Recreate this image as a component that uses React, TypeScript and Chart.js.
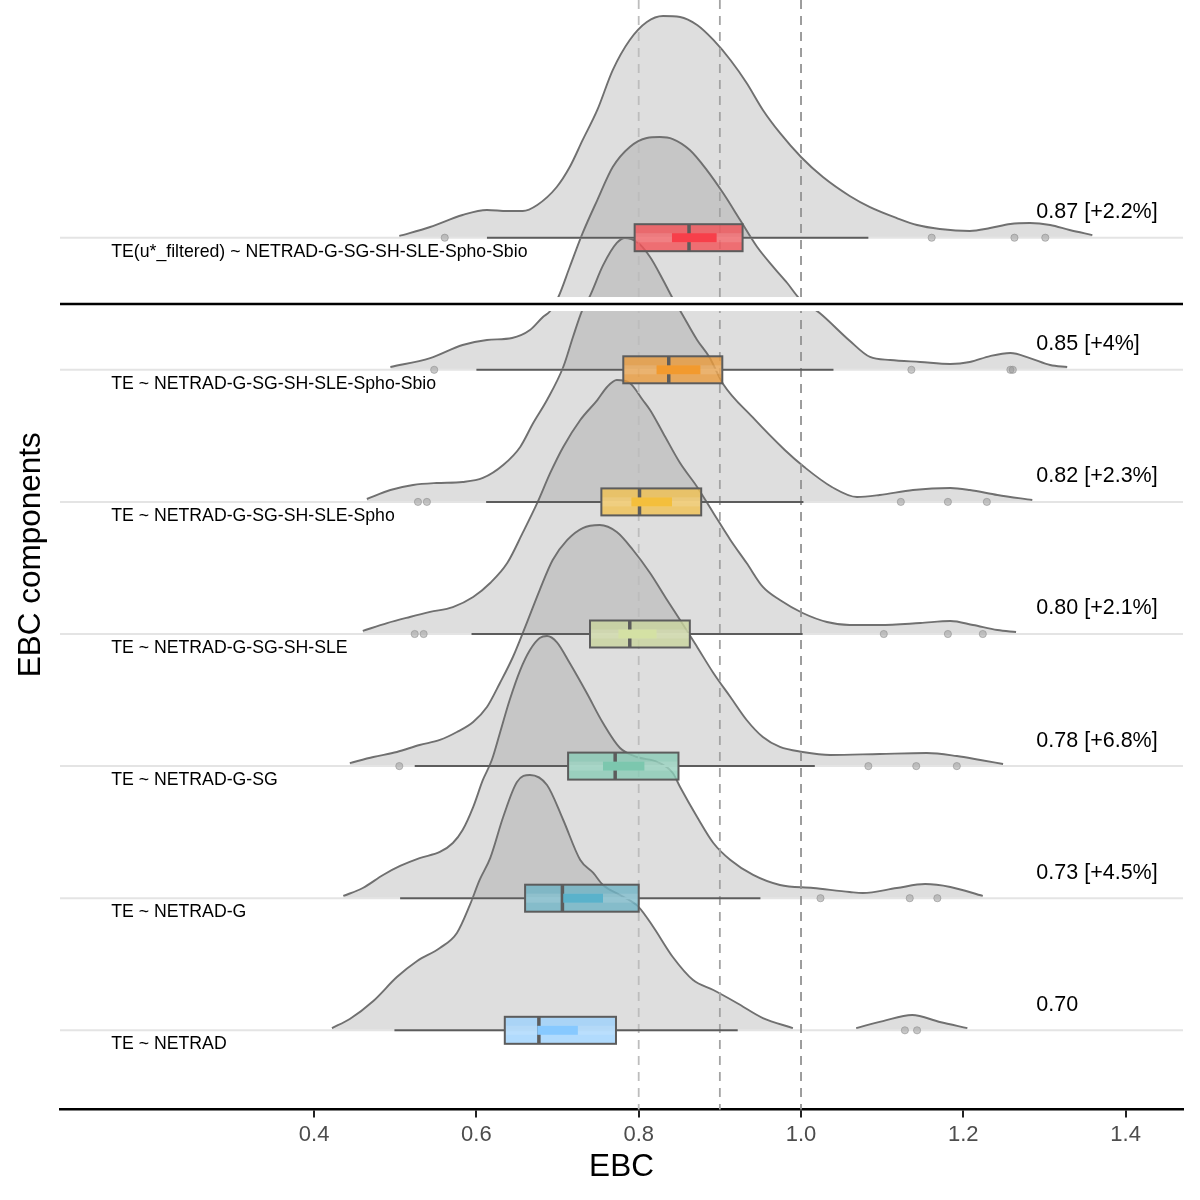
import { useEffect, useRef } from "react"
import { Chart, registerables } from "chart.js"

Chart.register(...registerables)

// rows from the bottom (0) to the top (6)
const rowLabels = [
  "TE ~ NETRAD",
  "TE ~ NETRAD-G",
  "TE ~ NETRAD-G-SG",
  "TE ~ NETRAD-G-SG-SH-SLE",
  "TE ~ NETRAD-G-SG-SH-SLE-Spho",
  "TE ~ NETRAD-G-SG-SH-SLE-Spho-Sbio",
  "TE(u*_filtered) ~ NETRAD-G-SG-SH-SLE-Spho-Sbio",
]
const meanLabels = ["0.70", "0.73 [+4.5%]", "0.78 [+6.8%]", "0.80 [+2.1%]", "0.82 [+2.3%]", "0.85 [+4%]", "0.87 [+2.2%]"]
const xTicks = [0.4, 0.6, 0.8, 1.0, 1.2, 1.4]
const refLines = [0.8, 0.9, 1.0]

// box plot stats
const whiskerLow = [0.499, 0.506, 0.524, 0.594, 0.612, 0.6, 0.613]
const q1 = [0.635, 0.66, 0.713, 0.74, 0.754, 0.781, 0.795]
const median = [0.677, 0.706, 0.771, 0.789, 0.801, 0.837, 0.862]
const q3 = [0.772, 0.8, 0.849, 0.863, 0.877, 0.903, 0.928]
const whiskerHigh = [0.922, 0.95, 1.017, 1.002, 1.003, 1.04, 1.083]
const meanLow = [0.675, 0.707, 0.756, 0.775, 0.791, 0.822, 0.841]
const meanHigh = [0.725, 0.756, 0.807, 0.822, 0.841, 0.876, 0.896]

const outliers0 = [1.128, 1.143]
const outliers1 = [1.024, 1.134, 1.168]
const outliers2 = [0.505, 1.083, 1.142, 1.192]
const outliers3 = [0.524, 0.535, 1.102, 1.181, 1.224]
const outliers4 = [0.528, 0.539, 1.123, 1.181, 1.229]
const outliers5 = [0.548, 1.136, 1.258, 1.261]
const outliers6 = [0.561, 1.161, 1.263, 1.301]

// density ridges: EBC value and height (in row spacings)
const ridgeX0 = [0.422, 0.444, 0.473, 0.502, 0.527, 0.555, 0.576, 0.592, 0.604, 0.617, 0.633, 0.65, 0.666, 0.687, 0.707, 0.728, 0.744, 0.756, 0.777, 0.8, 0.818, 0.842, 0.867, 0.892, 0.921, 0.953, 0.99]
const ridgeH0 = [0.017, 0.086, 0.222, 0.403, 0.525, 0.623, 0.737, 0.949, 1.138, 1.304, 1.615, 1.88, 1.933, 1.857, 1.592, 1.289, 1.191, 1.1, 1.024, 0.933, 0.782, 0.555, 0.381, 0.305, 0.207, 0.093, 0.017]
const bumpX0 = [1.068, 1.101, 1.137, 1.171, 1.205]
const bumpH0 = [0.017, 0.07, 0.116, 0.063, 0.017]

const ridgeX1 = [0.436, 0.46, 0.485, 0.506, 0.53, 0.555, 0.571, 0.583, 0.596, 0.608, 0.619, 0.629, 0.641, 0.654, 0.666, 0.678, 0.687, 0.699, 0.715, 0.736, 0.756, 0.777, 0.798, 0.823, 0.842, 0.851, 0.872, 0.892, 0.913, 0.941, 0.974, 1.015, 1.06, 1.076, 1.118, 1.153, 1.184, 1.224]
const ridgeH1 = [0.017, 0.077, 0.176, 0.244, 0.304, 0.35, 0.418, 0.516, 0.69, 0.895, 1.046, 1.251, 1.5, 1.727, 1.879, 1.97, 1.985, 1.939, 1.78, 1.553, 1.326, 1.137, 1.069, 1.031, 0.948, 0.842, 0.615, 0.418, 0.289, 0.176, 0.1, 0.077, 0.047, 0.039, 0.077, 0.107, 0.085, 0.017]

const ridgeX2 = [0.444, 0.473, 0.502, 0.53, 0.555, 0.576, 0.596, 0.613, 0.629, 0.645, 0.662, 0.678, 0.694, 0.712, 0.731, 0.752, 0.773, 0.793, 0.814, 0.835, 0.851, 0.872, 0.892, 0.913, 0.933, 0.953, 0.974, 1.002, 1.036, 1.097, 1.155, 1.192, 1.221, 1.249]
const ridgeH2 = [0.023, 0.069, 0.107, 0.16, 0.198, 0.258, 0.334, 0.447, 0.629, 0.826, 1.083, 1.333, 1.56, 1.712, 1.802, 1.825, 1.772, 1.636, 1.462, 1.257, 1.106, 0.902, 0.705, 0.523, 0.349, 0.22, 0.145, 0.107, 0.084, 0.092, 0.099, 0.076, 0.046, 0.016]

const ridgeX3 = [0.46, 0.49, 0.518, 0.543, 0.571, 0.596, 0.617, 0.638, 0.657, 0.675, 0.691, 0.707, 0.728, 0.749, 0.761, 0.773, 0.789, 0.805, 0.814, 0.83, 0.851, 0.872, 0.892, 0.913, 0.933, 0.953, 0.974, 1.002, 1.032, 1.06, 1.097, 1.147, 1.184, 1.212, 1.242, 1.265]
const ridgeH3 = [0.023, 0.083, 0.129, 0.167, 0.204, 0.28, 0.386, 0.537, 0.765, 0.992, 1.219, 1.416, 1.62, 1.771, 1.87, 1.923, 1.9, 1.771, 1.696, 1.522, 1.294, 1.113, 0.916, 0.712, 0.537, 0.356, 0.257, 0.159, 0.091, 0.068, 0.068, 0.083, 0.098, 0.068, 0.03, 0.015]

const ridgeX4 = [0.465, 0.494, 0.522, 0.551, 0.583, 0.608, 0.633, 0.654, 0.67, 0.687, 0.707, 0.719, 0.73, 0.74, 0.756, 0.773, 0.783, 0.798, 0.814, 0.83, 0.841, 0.852, 0.872, 0.887, 0.904, 0.94, 0.98, 1.004, 1.038, 1.069, 1.097, 1.138, 1.184, 1.208, 1.242, 1.285]
const ridgeH4 = [0.022, 0.09, 0.128, 0.143, 0.151, 0.181, 0.279, 0.416, 0.597, 0.771, 1.021, 1.248, 1.445, 1.56, 1.79, 1.96, 1.998, 1.967, 1.854, 1.68, 1.551, 1.438, 1.226, 1.097, 0.893, 0.643, 0.393, 0.264, 0.113, 0.037, 0.052, 0.09, 0.105, 0.09, 0.052, 0.014]

const ridgeX5 = [0.494, 0.543, 0.583, 0.613, 0.644, 0.666, 0.682, 0.691, 0.701, 0.715, 0.731, 0.749, 0.768, 0.789, 0.81, 0.826, 0.842, 0.863, 0.884, 0.904, 0.925, 0.946, 0.966, 0.983, 0.998, 1.023, 1.06, 1.085, 1.11, 1.147, 1.184, 1.208, 1.233, 1.258, 1.282, 1.307, 1.328]
const ridgeH5 = [0.021, 0.089, 0.188, 0.226, 0.241, 0.301, 0.4, 0.445, 0.551, 0.778, 1.036, 1.285, 1.535, 1.687, 1.755, 1.762, 1.747, 1.664, 1.512, 1.338, 1.134, 0.93, 0.778, 0.657, 0.54, 0.43, 0.22, 0.097, 0.074, 0.059, 0.044, 0.059, 0.104, 0.127, 0.089, 0.036, 0.021]

const ridgeX6 = [0.505, 0.543, 0.583, 0.613, 0.638, 0.657, 0.675, 0.699, 0.715, 0.731, 0.749, 0.768, 0.789, 0.81, 0.83, 0.851, 0.872, 0.892, 0.913, 0.933, 0.953, 0.974, 1.0, 1.027, 1.06, 1.085, 1.118, 1.143, 1.171, 1.208, 1.233, 1.258, 1.282, 1.307, 1.331, 1.359]
const ridgeH6 = [0.013, 0.081, 0.172, 0.21, 0.202, 0.202, 0.248, 0.384, 0.535, 0.74, 0.967, 1.269, 1.497, 1.633, 1.678, 1.671, 1.61, 1.497, 1.345, 1.171, 0.967, 0.793, 0.611, 0.459, 0.316, 0.232, 0.149, 0.096, 0.066, 0.051, 0.073, 0.104, 0.111, 0.096, 0.058, 0.02]

const ridgeX = [ridgeX0, ridgeX1, ridgeX2, ridgeX3, ridgeX4, ridgeX5, ridgeX6]
const ridgeH = [ridgeH0, ridgeH1, ridgeH2, ridgeH3, ridgeH4, ridgeH5, ridgeH6]
const outliers = [outliers0, outliers1, outliers2, outliers3, outliers4, outliers5, outliers6]

// styling
const FONT = "'Liberation Sans', Arial, sans-serif"
const boxFill = [
  "rgba(157, 210, 252, 0.8)",
  "rgba(111, 180, 198, 0.8)",
  "rgba(138, 204, 182, 0.8)",
  "rgba(201, 212, 157, 0.8)",
  "rgba(241, 194, 82, 0.8)",
  "rgba(234, 155, 60, 0.8)",
  "rgba(242, 82, 87, 0.8)",
]
const meanFill = ["#87c9ff", "#5ab2cb", "#7cc7ae", "#d4e1a4", "#f4bf3c", "#f29a2e", "#f73f4a"]
const refColors = ["#bdbdbd", "#a3a3a3", "#939393"]

function ridgeDataset(xs: number[], hs: number[], row: number) {
  return {
    label: "ridge" + row,
    data: xs.map((x, i) => ({ x, y: row + hs[i] })),
    borderColor: "#707070",
    borderWidth: 1.9,
    backgroundColor: "rgba(133, 133, 133, 0.27)",
    fill: { value: row },
    pointRadius: 0,
    cubicInterpolationMode: "monotone",
  }
}

const ridgeDecor = {
  id: "ridgeDecor",
  beforeDatasetDraw(chart: any, args: any) {
    if (chart.data.datasets[args.index].label !== "outliers") return
    const { ctx, chartArea } = chart
    const xs = chart.scales.x
    const ys = chart.scales.y
    const line = (x1: number, y1: number, x2: number, y2: number) => {
      ctx.beginPath()
      ctx.moveTo(x1, y1)
      ctx.lineTo(x2, y2)
      ctx.stroke()
    }
    ctx.save()

    // baselines
    ctx.strokeStyle = "#e4e4e4"
    ctx.lineWidth = 2
    rowLabels.forEach((_, r) => {
      const y = ys.getPixelForValue(r)
      line(chartArea.left, y, chartArea.right, y)
    })

    // reference lines
    ctx.lineWidth = 1.8
    ctx.setLineDash([9, 7])
    refLines.forEach((v, i) => {
      ctx.strokeStyle = refColors[i]
      const x = xs.getPixelForValue(v)
      line(x, chartArea.top, x, chartArea.bottom)
    })
    ctx.setLineDash([])

    // box plots
    const half = 13.5
    rowLabels.forEach((_, r) => {
      const y = ys.getPixelForValue(r)
      const x1 = xs.getPixelForValue(q1[r])
      const x3 = xs.getPixelForValue(q3[r])
      ctx.strokeStyle = "#5c5c5c"
      ctx.lineWidth = 2
      line(xs.getPixelForValue(whiskerLow[r]), y, x1, y)
      line(x3, y, xs.getPixelForValue(whiskerHigh[r]), y)
      ctx.fillStyle = boxFill[r]
      ctx.fillRect(x1, y - half, x3 - x1, half * 2)
      ctx.fillStyle = "rgba(255, 255, 255, 0.12)"
      ctx.fillRect(x1, y - 4.5, x3 - x1, 9)
      ctx.strokeRect(x1, y - half, x3 - x1, half * 2)
      const xm = xs.getPixelForValue(median[r])
      ctx.lineWidth = 3.5
      line(xm, y - half, xm, y + half)
      const ml = xs.getPixelForValue(meanLow[r])
      const mh = xs.getPixelForValue(meanHigh[r])
      ctx.fillStyle = meanFill[r]
      ctx.fillRect(ml, y - 4.5, mh - ml, 9)
    })
    ctx.restore()
  },
  afterDatasetsDraw(chart: any) {
    const { ctx, chartArea } = chart
    const xs = chart.scales.x
    const ys = chart.scales.y
    ctx.save()

    // gap between the two panels
    const gapTop = ys.getPixelForValue(5.551)
    const gapBottom = ys.getPixelForValue(5.445)
    ctx.fillStyle = "#ffffff"
    ctx.fillRect(chartArea.left, gapTop, chartArea.right - chartArea.left, gapBottom - gapTop)
    ctx.strokeStyle = "#000000"
    ctx.lineWidth = 2.7
    const yLine = ys.getPixelForValue(5.498)
    ctx.beginPath()
    ctx.moveTo(chartArea.left, yLine)
    ctx.lineTo(chartArea.right, yLine)
    ctx.stroke()

    // texts
    ctx.fillStyle = "#000000"
    ctx.textAlign = "left"
    ctx.textBaseline = "middle"
    const xLabel = xs.getPixelForValue(0.15)
    const xMean = xs.getPixelForValue(1.29)
    rowLabels.forEach((label, r) => {
      const y = ys.getPixelForValue(r)
      ctx.font = "17.7px " + FONT
      ctx.fillText(label, xLabel, y + 14)
      ctx.font = "21.5px " + FONT
      ctx.fillText(meanLabels[r], xMean, y - 25.5)
    })
    ctx.restore()
  },
}

export default function App() {
  const chartRef = useRef<HTMLCanvasElement>(null)
  const chartInstance = useRef<Chart | null>(null)

  useEffect(() => {
    if (!chartRef.current) return
    const ctx = chartRef.current.getContext("2d")
    if (!ctx) return

    if (chartInstance.current) {
      chartInstance.current.destroy()
    }

    Chart.defaults.font.family = FONT

    const datasets: any[] = []
    ridgeX.forEach((xsRow, r) => {
      datasets.push(ridgeDataset(xsRow, ridgeH[r], r))
      if (r === 0) datasets.push(ridgeDataset(bumpX0, bumpH0, 0))
    })
    datasets.push({
      label: "outliers",
      data: outliers.flatMap((vals, r) => vals.map((x) => ({ x, y: r }))),
      showLine: false,
      order: -1,
      pointRadius: 3.6,
      pointBackgroundColor: "rgba(150, 150, 150, 0.5)",
      pointBorderColor: "rgba(140, 140, 140, 0.55)",
      pointBorderWidth: 1,
    })

    chartInstance.current = new Chart(ctx, {
      type: "line",
      data: { datasets },
      options: {
        animation: false,
        responsive: false,
        layout: { autoPadding: false, padding: { top: 0, right: 17, bottom: 0, left: 0 } },
        plugins: {
          legend: { display: false },
          tooltip: { enabled: false },
        },
        scales: {
          x: {
            type: "linear",
            min: 0.0869,
            max: 1.4707,
            afterBuildTicks: (scale: any) => {
              scale.ticks = xTicks.map((value) => ({ value }))
            },
            afterFit: (scale: any) => {
              scale.height = 90.5
            },
            ticks: {
              callback: (v: any) => Number(v).toFixed(1),
              color: "#4d4d4d",
              font: { size: 22 },
              padding: 4,
              autoSkip: false,
              maxRotation: 0,
            },
            grid: { drawOnChartArea: false, drawTicks: true, tickLength: 8, color: "#222222", lineWidth: 2 },
            border: { display: true, color: "#000000", width: 2.5 },
            title: { display: true, text: "EBC", color: "#000000", font: { size: 31.5 }, padding: { top: 0, bottom: 14 } },
          },
          y: {
            type: "linear",
            min: -0.5995,
            max: 7.7994,
            afterFit: (scale: any) => {
              scale.width = 60
            },
            ticks: { display: false },
            grid: { display: false },
            border: { display: false },
            title: {
              display: true,
              text: "EBC components",
              color: "#000000",
              font: { size: 31.5 },
              padding: { top: 12, bottom: 0 },
            },
          },
        },
      } as any,
      plugins: [ridgeDecor],
    })

    return () => {
      if (chartInstance.current) {
        chartInstance.current.destroy()
        chartInstance.current = null
      }
    }
  }, [])

  return (
    <div style={{ position: "absolute", left: 0, top: 0, width: 1200, height: 1200, background: "#ffffff" }}>
      <canvas ref={chartRef} width={1200} height={1200} style={{ display: "block" }} />
    </div>
  )
}
